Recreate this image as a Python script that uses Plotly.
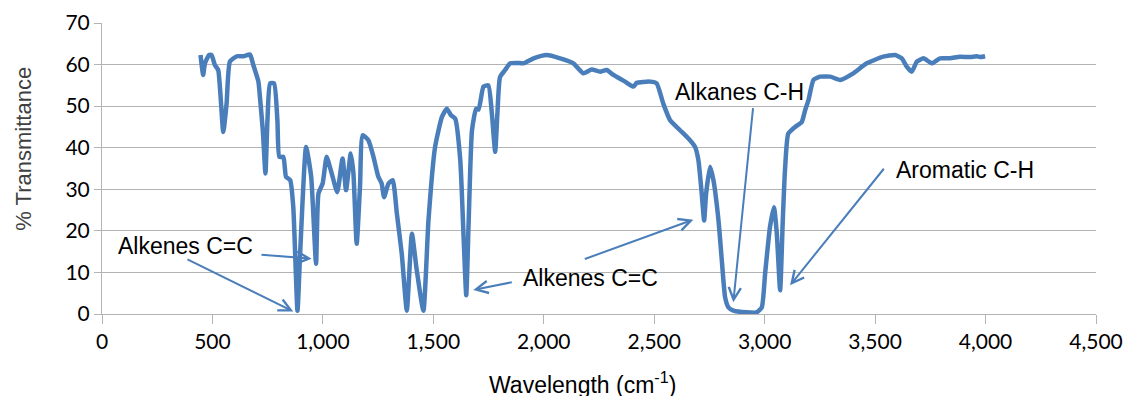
import plotly.graph_objects as go

# Wavenumber (cm-1) and % transmittance
wavenumber = [446, 458, 466, 485, 496, 511, 526, 549, 564, 579, 610, 640, 670, 685,
              708, 715, 728, 740, 749, 761, 779, 794, 803, 821, 833, 852, 866, 885,
              897, 924, 947, 969, 980, 999, 1017, 1040, 1065, 1089, 1105, 1126, 1138,
              1153, 1168, 1180, 1206, 1229, 1251, 1266, 1277, 1297, 1316, 1335, 1357,
              1380, 1403, 1425, 1455, 1478, 1508, 1539, 1561, 1580, 1599, 1622, 1637,
              1649, 1660, 1675, 1694, 1705, 1727, 1749, 1765, 1780, 1790, 1802, 1825,
              1848, 1878, 1908, 1954, 2013, 2074, 2134, 2179, 2217, 2255, 2285, 2315,
              2368, 2406, 2421, 2481, 2511, 2541, 2572, 2617, 2655, 2685, 2700, 2715,
              2726, 2735, 2753, 2768, 2791, 2806, 2821, 2836, 2859, 2918, 2964, 2987,
              3002, 3024, 3042, 3055, 3070, 3082, 3092, 3107, 3138, 3168, 3183, 3198,
              3221, 3251, 3297, 3342, 3401, 3462, 3537, 3590, 3621, 3643, 3666, 3689,
              3719, 3757, 3794, 3839, 3884, 3930, 3960, 3976, 3998]
transmittance = [62.3, 57.5, 60.3, 62.3, 62.3, 59.9, 58.7, 43.8, 50.6, 60.7, 62.0, 62.0,
                 62.4, 59.9, 55.9, 52.2, 44.2, 33.8, 46.6, 55.5, 55.5, 46.6, 37.8, 37.8,
                 33.0, 32.2, 25.7, 0.8, 14.6, 40.2, 33.0, 12.1, 29.0, 31.4, 37.8, 33.8,
                 29.3, 37.4, 29.8, 38.6, 34.0, 16.9, 30.6, 43.0, 41.8, 37.8, 33.0, 31.4,
                 28.1, 31.4, 32.2, 24.1, 14.5, 0.8, 19.3, 10.5, 0.8, 22.5, 40.2, 47.4,
                 49.4, 47.8, 47.0, 37.0, 18.5, 4.5, 22.5, 44.2, 49.4, 49.2, 54.7, 55.0,
                 48.2, 39.0, 48.2, 57.0, 58.7, 60.3, 60.4, 60.3, 61.5, 62.3, 61.5, 60.3,
                 57.9, 58.8, 58.3, 58.7, 57.5, 55.9, 54.7, 55.6, 55.9, 55.5, 50.6, 46.6,
                 44.2, 42.2, 40.2, 37.0, 29.0, 22.5, 29.0, 35.4, 32.2, 22.5, 12.9, 4.0,
                 1.6, 0.8, 0.4, 0.4, 1.6, 9.7, 20.9, 25.7, 19.3, 5.7, 22.5, 34.6, 43.4,
                 45.0, 46.2, 49.0, 51.4, 56.3, 57.1, 57.1, 56.3, 57.9, 60.3, 61.9, 62.3,
                 61.5, 59.5, 58.3, 60.7, 61.5, 60.3, 61.5, 61.5, 61.9, 61.8, 62.0, 61.8,
                 62.0]

x_ticks = [0, 500, 1000, 1500, 2000, 2500, 3000, 3500, 4000, 4500]
x_tick_labels = ["0", "500", "1,000", "1,500", "2,000", "2,500", "3,000", "3,500", "4,000", "4,500"]
y_ticks = [0, 10, 20, 30, 40, 50, 60, 70]

# Peak labels: text and its anchor (data coords)
label_texts = ["Alkenes C=C", "Alkenes C=C", "Alkanes C-H", "Aromatic C-H"]
label_x = [378, 2211, 2884, 3907]
label_y = [16.3, 8.7, 53.5, 34.6]

# Arrows: tail (x, y) -> head (x, y)
arrow_tail_x = [380, 715, 1862, 2179, 2948, 3545]
arrow_tail_y = [13.3, 14.3, 7.7, 13.1, 49.9, 35.3]
arrow_head_x = [866, 949, 1681, 2677, 2858, 3115]
arrow_head_y = [0.6, 13.3, 5.8, 22.7, 2.8, 6.9]

BLUE = "#4a7ebb"
GRID = "#b3b3b3"

fig = go.Figure()
fig.add_trace(go.Scatter(
    x=wavenumber, y=transmittance, mode="lines",
    line=dict(color=BLUE, width=4.5, shape="spline", smoothing=0.5),
    hoverinfo="skip", showlegend=False,
))

annotations = []
for tx, ty, hx, hy in zip(arrow_tail_x, arrow_tail_y, arrow_head_x, arrow_head_y):
    annotations.append(dict(
        x=hx, y=hy, ax=tx, ay=ty, xref="x", yref="y", axref="x", ayref="y",
        text="", showarrow=True, arrowhead=5, arrowsize=1.2, arrowwidth=2,
        arrowcolor=BLUE, standoff=0, startstandoff=0,
    ))
for t, lx, ly in zip(label_texts, label_x, label_y):
    annotations.append(dict(
        x=lx, y=ly, xref="x", yref="y", text=t, showarrow=False,
        font=dict(family="Liberation Sans, Arial, sans-serif", size=23, color="#000000"),
        xanchor="center", yanchor="middle",
    ))
annotations.append(dict(
    x=0.4834, y=-0.238, xref="paper", yref="paper",
    text="Wavelength (cm<sup>-1</sup>)", showarrow=False,
    font=dict(family="Liberation Sans, Arial, sans-serif", size=23, color="#000000"),
    xanchor="center", yanchor="middle",
))
annotations.append(dict(
    x=-0.0785, y=0.568, xref="paper", yref="paper",
    text="% Transmittance", showarrow=False, textangle=-90,
    font=dict(family="Liberation Sans, Arial, sans-serif", size=22, color="#3f3f3f"),
    xanchor="center", yanchor="middle",
))

fig.update_layout(
    width=1127, height=396,
    margin=dict(l=102, r=31, t=23, b=82),
    paper_bgcolor="white", plot_bgcolor="white",
    annotations=annotations,
    xaxis=dict(
        range=[0, 4500], tickvals=x_ticks, ticktext=x_tick_labels,
        showgrid=False, zeroline=False, automargin=False,
        showline=True, linecolor=GRID, linewidth=1,
        ticks="outside", ticklen=9, tickcolor=GRID, tickwidth=1,
        tickfont=dict(family="Lato, Open Sans, sans-serif", size=21, color="#000000"),
    ),
    yaxis=dict(
        range=[0, 70], tickvals=y_ticks, ticksuffix="\u00a0\u00a0\u00a0",
        showgrid=True, gridcolor=GRID, gridwidth=1, zeroline=False, automargin=False,
        showline=True, linecolor=GRID, linewidth=1,
        ticks="outside", ticklen=7, tickcolor=GRID, tickwidth=1,
        tickfont=dict(family="Lato, Open Sans, sans-serif", size=21, color="#000000"),
    ),
)

# Remove the default 8px page margin so the figure sits at the window's top-left corner.
fig.write_html(
    "out.html",
    config={"displayModeBar": False},
    post_script="document.body.style.margin='0';document.body.style.overflow='hidden';",
)
